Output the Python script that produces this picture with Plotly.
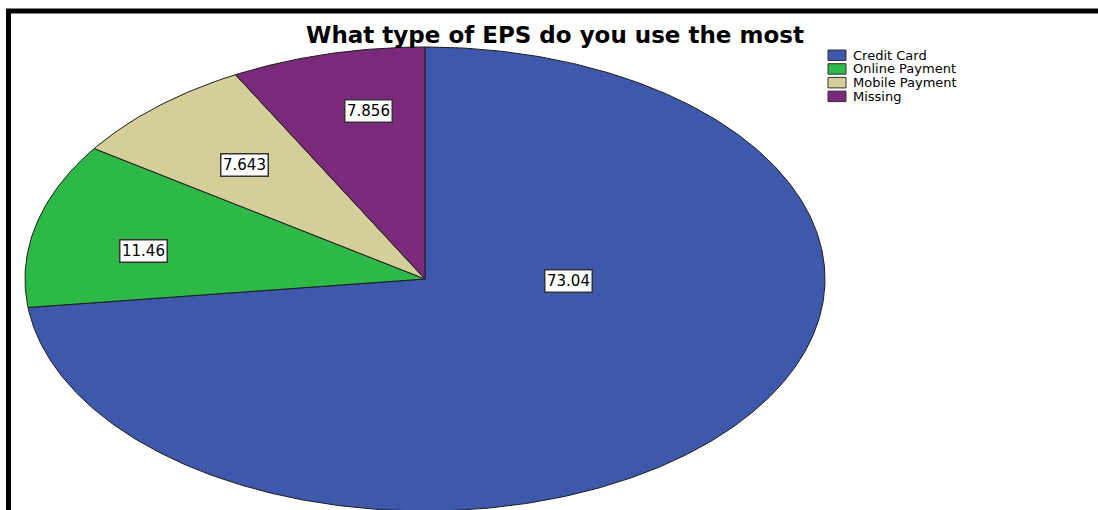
import numpy as np
import plotly.graph_objects as go

# ---- data ----
categories = ["Credit Card", "Online Payment", "Mobile Payment", "Missing"]
values = [73.04, 11.46, 7.643, 7.856]
value_labels = ["73.04", "11.46", "7.643", "7.856"]
title_text = "What type of EPS do you use the most"

# ---- layout / style constants ----
colors = ["#3E58AC", "#2EB848", "#D4CE99", "#7B2A7B"]
W, H = 1098, 510
CX, CY, RX, RY = 425, 279, 400, 232
label_pos = [(568, 281), (143, 251), (244, 165), (368, 111)]
FONT = "DejaVu Sans"

fig = go.Figure()
total = sum(values)
start = 0.0
for cat, v, c in zip(categories, values, colors):
    f0, f1 = start / total, (start + v) / total
    n = max(int(v * 6), 12)
    t = np.linspace(f0, f1, n) * 2 * np.pi
    xs = np.concatenate([[CX], CX + RX * np.sin(t), [CX]])
    ys = np.concatenate([[CY], CY - RY * np.cos(t), [CY]])
    fig.add_trace(go.Scatter(
        x=xs, y=ys, fill="toself", fillcolor=c, mode="lines",
        line=dict(color="#1c1c1c", width=1), name=cat,
        showlegend=False, hoverinfo="name"))
    start += v

annotations = []
for (lx, ly), txt in zip(label_pos, value_labels):
    annotations.append(dict(
        x=lx, y=ly, xref="x", yref="y", text=txt, showarrow=False,
        font=dict(family=FONT, size=15, color="black"),
        bgcolor="white", bordercolor="#333333", borderwidth=1.5, borderpad=1.5,
        xanchor="center", yanchor="middle"))

shapes = []
# legend drawn manually
for i, (cat, c) in enumerate(zip(categories, colors)):
    y0 = 50 + i * 13.7
    shapes.append(dict(type="rect", xref="x", yref="y", x0=828, x1=846,
                       y0=y0, y1=y0 + 10.5, fillcolor=c,
                       line=dict(color="#333333", width=1)))
    annotations.append(dict(
        x=851, y=y0 + 5.2, xref="x", yref="y", text=cat, showarrow=False,
        font=dict(family=FONT, size=13, color="black"),
        xanchor="left", yanchor="middle"))

# frame
shapes.append(dict(type="path", xref="x", yref="y",
                   path="M 8.5 530 L 8.5 11 L 1120 11",
                   line=dict(color="black", width=5)))

fig.update_layout(
    width=W, height=H,
    margin=dict(l=0, r=0, t=0, b=0),
    paper_bgcolor="white", plot_bgcolor="white",
    xaxis=dict(range=[0, W], visible=False, fixedrange=True),
    yaxis=dict(range=[H, 0], visible=False, fixedrange=True),
    title=dict(text="<b>" + title_text + "</b>", x=555 / W, y=1 - 35 / H,
               xanchor="center", yanchor="middle",
               font=dict(family=FONT, size=23, color="black")),
    annotations=annotations, shapes=shapes, showlegend=False,
)

fig.write_html("out.html")
